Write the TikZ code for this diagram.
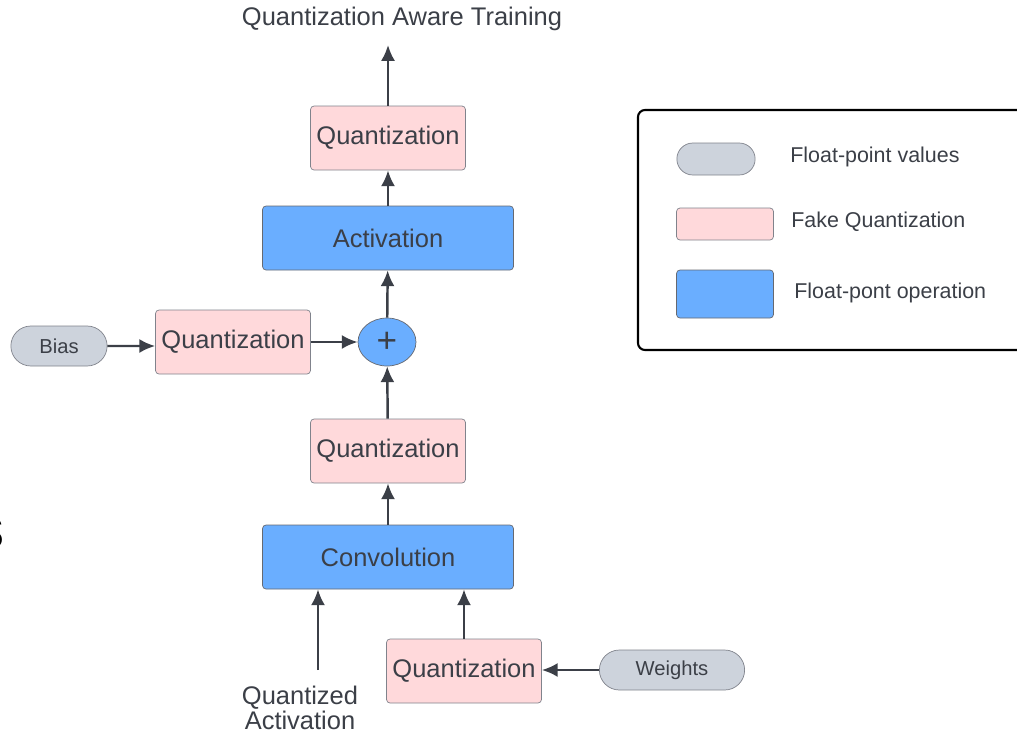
\documentclass[tikz,border=0pt]{standalone}
\usepackage{fontspec}
\setmainfont{Liberation Sans}
\usetikzlibrary{arrows.meta,shapes.misc,shapes.geometric}
\definecolor{txt}{HTML}{3B3F47}
\definecolor{edge}{HTML}{80838C}
\definecolor{fakeq}{HTML}{FFD9DB}
\definecolor{floatop}{HTML}{6AAEFF}
\definecolor{floatval}{HTML}{CDD3DC}
\begin{document}
\begin{tikzpicture}[x=0.02cm,y=-0.02cm,
            every node/.style={text=txt,font=\fontsize{14.5}{17.5}\selectfont},
            quant/.style={rectangle,rounded corners=2pt,draw=edge,fill=fakeq,
              minimum width=3.1cm,minimum height=1.28cm,inner sep=0pt},
            op/.style={rectangle,rounded corners=2pt,draw=edge!80!black,fill=floatop,
              minimum width=5.02cm,minimum height=1.28cm,inner sep=0pt},
            val/.style={rounded rectangle,draw=edge,fill=floatval,minimum height=0.8cm,
              font=\fontsize{11.5}{14}\selectfont},
            arr/.style={-{Latex[length=9pt,width=8pt]},line width=1.4pt,draw=txt}]
            \clip (0,0) rectangle (1017,731);
            % main column
            \node (title) at (402,19) {Quantization Aware Training};
            \coordinate (out) at (388,45);
            \node[quant] (qtop) at (388,138) {Quantization};
            \node[op] (act) at (388,238) {Activation};
            \node[ellipse,draw=edge!80!black,fill=floatop,minimum width=1.16cm,
              minimum height=0.96cm,inner sep=0pt,font=\fontsize{20}{20}\selectfont] (plus) at (387,342) {+};
            \node[quant] (qmid) at (388,451) {Quantization};
            \node[op] (conv) at (388,557) {Convolution};
            % bias branch
            \node[val,minimum width=2.16cm] (bias) at (59,346) {Bias};
            \node[quant] (qbias) at (233,342) {Quantization};
            % weight branch
            \node[quant] (qw) at (464,671) {Quantization};
            \node[val,minimum width=3.14cm] (w) at (672,670) {Weights};
            \coordinate (qa) at (318,670);
            \node[align=center,inner sep=1pt,font=\fontsize{14.5}{14}\selectfont] (qatext) at (300,708) {Quantized\\Activation};

            \draw[arr] (qtop) -- (out);
            \draw[arr] (act) -- (qtop);
            \draw[arr] (plus) -- (act);
            \draw[arr] (qmid) -- (plus);
            \draw[arr] (conv) -- (qmid);
            \draw[arr] (bias) -- (bias -| qbias.west);
            \draw[arr] (qbias) -- (plus);
            \draw[arr] (qa) -- (qa |- conv.south);
            \draw[arr] (qw) -- (qw |- conv.south);
            \draw[arr] (w) -- (w -| qw.east);

            % legend
            \draw[line width=1.2pt,rounded corners=4pt] (638,110) rectangle (1040,350);
            \node[val,minimum width=1.8cm,minimum height=0.64cm] (lgval) at (716,159) {};
            \node[quant,minimum width=1.94cm,minimum height=0.64cm] (lgfake) at (725,224) {};
            \node[op,minimum width=1.94cm,minimum height=0.96cm] (lgop) at (725,294) {};
            \node[anchor=west,inner sep=0pt,font=\fontsize{12.2}{14}\selectfont] at (790,157) {Float-point values};
            \node[anchor=west,inner sep=0pt,font=\fontsize{12.2}{14}\selectfont] at (791,222) {Fake Quantization};
            \node[anchor=west,inner sep=0pt,font=\fontsize{12.2}{14}\selectfont] at (794,293) {Float-pont operation};

            % stray letter at the left edge
            \node[text=black,inner sep=0pt,font=\fontsize{33}{33}\selectfont] at (-10,533) {s};
          \end{tikzpicture}
\end{document}
